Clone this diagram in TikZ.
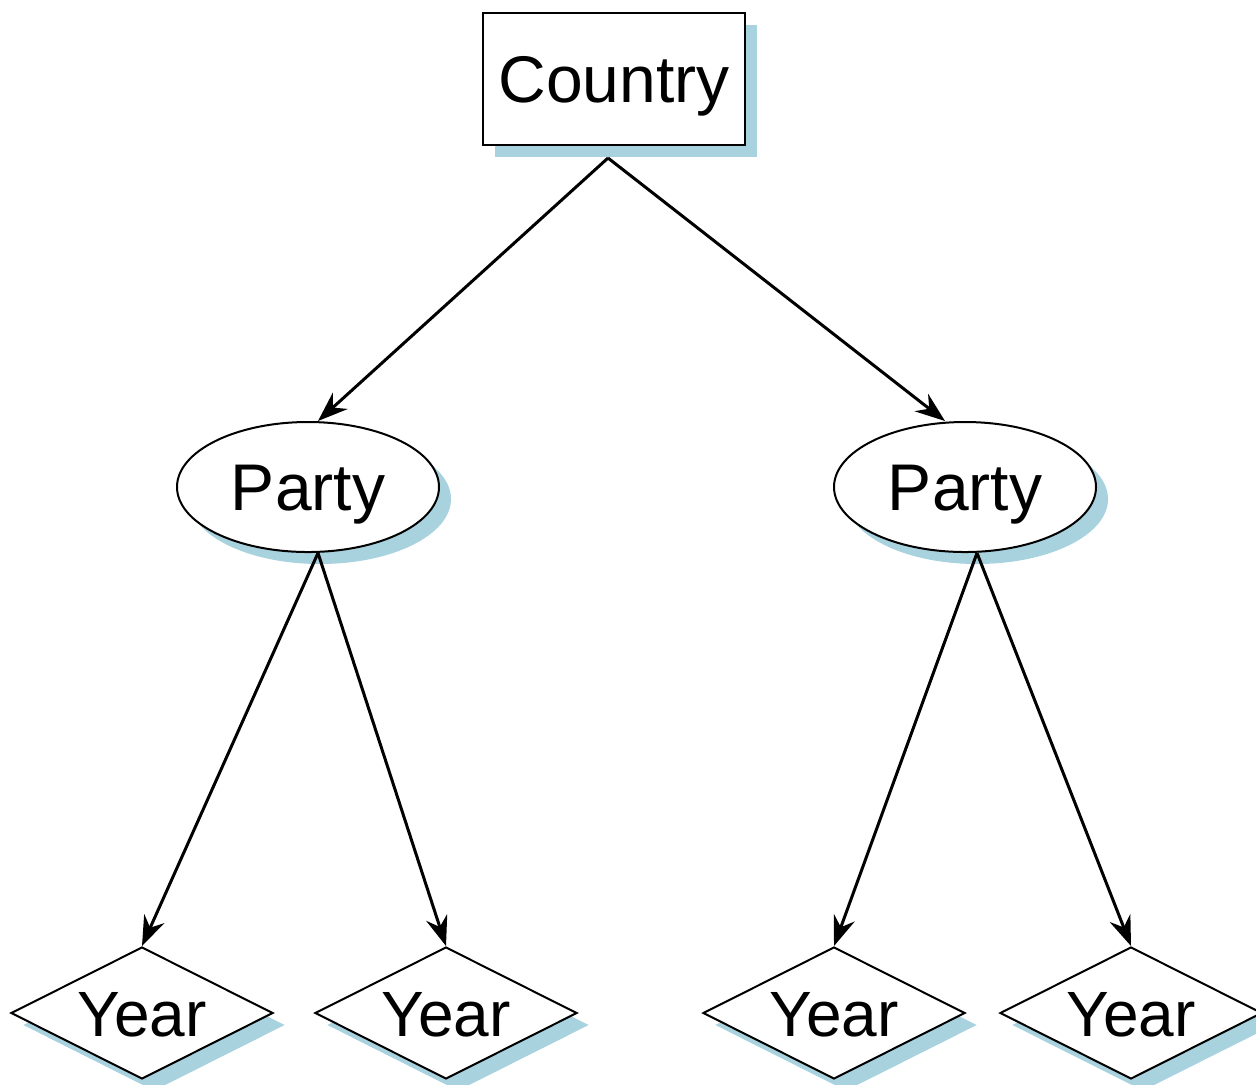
\documentclass[tikz,border=0pt]{standalone}
\usepackage{fontspec}
\setmainfont{Liberation Sans}
\usepackage{tikz}
\usetikzlibrary{arrows.meta, shapes.geometric, shadows}
\definecolor{shadowblue}{RGB}{168,210,222}

\tikzset{
  blueshadow/.style={drop shadow={shadow xshift=6pt, shadow yshift=-6pt, fill=shadowblue, opacity=1}},
  nodetext/.style={text height=23.5pt, text depth=0pt},
  boxnode/.style={draw, line width=1pt, fill=white, blueshadow, nodetext, minimum width=131pt, minimum height=66pt, font=\fontsize{33}{36}\selectfont},
  ovalnode/.style={ellipse, draw, line width=1pt, fill=white, blueshadow, nodetext, minimum width=131pt, minimum height=65pt, inner sep=0pt, font=\fontsize{33}{36}\selectfont},
  diamondnode/.style={diamond, aspect=2, draw, line width=1pt, fill=white, blueshadow, nodetext, minimum width=131pt, minimum height=66pt, inner sep=0pt, font=\fontsize{32}{36}\selectfont},
  arr/.style={line width=1.5pt, -{Stealth[length=15pt, width=11pt, inset=5pt]}}
}

\begin{document}
\begin{tikzpicture}[x=0.5pt, y=-0.5pt]

\useasboundingbox (0,0) rectangle (1256,1084);

% Root
\node[boxnode] (country) at (614,79) {Country};
\coordinate (apex) at ([xshift=-3pt, yshift=-6pt]country.south);

% Second level
\node[ovalnode] (partyL) at (308,487) {Party};
\node[ovalnode] (partyR) at (965,487) {Party};

% Leaves
\node[diamondnode] (yearLL) at (142,1013) {Year};
\node[diamondnode] (yearLR) at (446,1013) {Year};
\node[diamondnode] (yearRL) at (834,1013) {Year};
\node[diamondnode] (yearRR) at (1131,1013) {Year};

% Connectors
\draw[arr] (apex) -- ([xshift=5pt]partyL.north);
\draw[arr] (apex) -- ([xshift=-10pt]partyR.north);
\draw[arr] ([xshift=5pt]partyL.south) -- (yearLL.north);
\draw[arr] ([xshift=5pt]partyL.south) -- (yearLR.north);
\draw[arr] ([xshift=6pt]partyR.south) -- (yearRL.north);
\draw[arr] ([xshift=6pt]partyR.south) -- (yearRR.north);

\end{tikzpicture}
\end{document}
